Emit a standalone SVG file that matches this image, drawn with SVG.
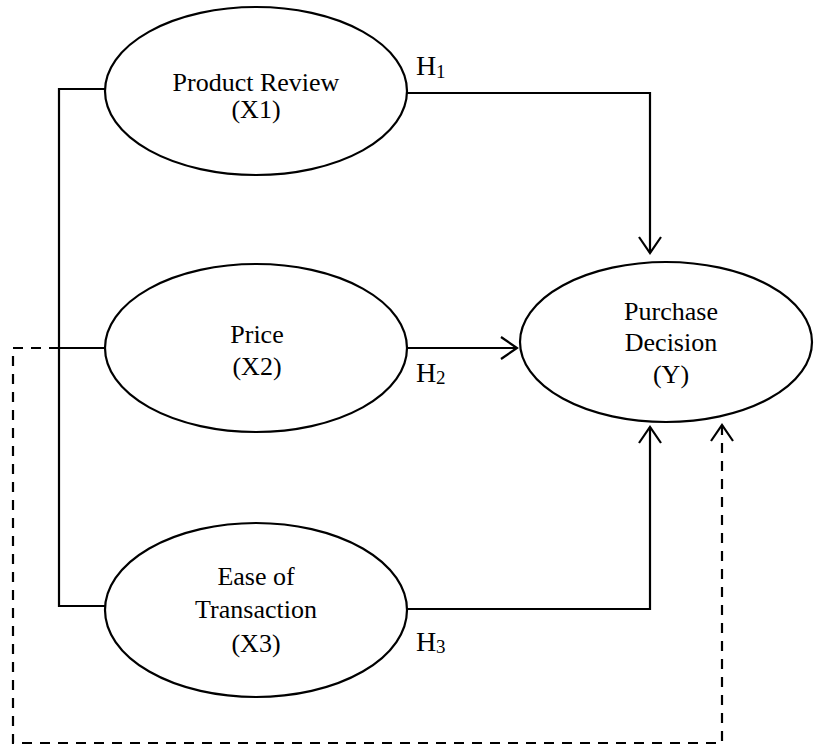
<svg xmlns="http://www.w3.org/2000/svg" width="814" height="746" viewBox="0 0 814 746">
  <style>
    .node ellipse { fill: #ffffff; stroke: #000000; stroke-width: 2.2; }
    .lbl { font-family: "Liberation Serif", "Times New Roman", serif; font-size: 26px; fill: #000000; text-anchor: middle; }
    .h { font-family: "Liberation Serif", "Times New Roman", serif; font-size: 28px; fill: #000000; }
    .sub { font-size: 19px; }
    .conn { fill: none; stroke: #000000; stroke-width: 2.2; }
    .dash { stroke-dasharray: 10 8; }
  </style>
  <defs>
    <marker id="arrow" viewBox="0 0 20 24" refX="18" refY="12" markerWidth="20" markerHeight="24" markerUnits="userSpaceOnUse" orient="auto">
      <path d="M2,1 L18,12 L2,23" fill="none" stroke="#000000" stroke-width="2.2" stroke-dasharray="none"/>
    </marker>
  </defs>
  <rect width="814" height="746" fill="#ffffff"/>

  <g id="connectors">
    <path class="conn" d="M105,89 H59 V606 H107"/>
    <path class="conn" d="M59,348 H105"/>
    <path class="conn" d="M407,93 H650 V253" marker-end="url(#arrow)"/>
    <path class="conn" d="M407,348 H517" marker-end="url(#arrow)"/>
    <path class="conn" d="M407,609 H650 V427" marker-end="url(#arrow)"/>
    <path class="conn dash" d="M59,348 H13 V743 H722 V425" marker-end="url(#arrow)"/>
  </g>

  <g id="x1" class="node">
    <ellipse cx="256" cy="91" rx="151" ry="84"/>
    <text class="lbl" x="256" y="91">Product Review</text>
    <text class="lbl" x="256" y="118">(X1)</text>
  </g>

  <g id="x2" class="node">
    <ellipse cx="256" cy="348" rx="151" ry="84"/>
    <text class="lbl" x="257" y="343">Price</text>
    <text class="lbl" x="257" y="375">(X2)</text>
  </g>

  <g id="x3" class="node">
    <ellipse cx="256" cy="610" rx="151" ry="87"/>
    <text class="lbl" x="256" y="585">Ease of</text>
    <text class="lbl" x="256" y="618">Transaction</text>
    <text class="lbl" x="256" y="652">(X3)</text>
  </g>

  <g id="y" class="node">
    <ellipse cx="666" cy="342" rx="146" ry="80"/>
    <text class="lbl" x="671" y="320">Purchase</text>
    <text class="lbl" x="671" y="351">Decision</text>
    <text class="lbl" x="671" y="383">(Y)</text>
  </g>

  <g id="labels">
    <text class="h" x="416" y="75">H<tspan class="sub" x="436" y="78">1</tspan></text>
    <text class="h" x="416" y="382">H<tspan class="sub" x="436" y="384">2</tspan></text>
    <text class="h" x="416" y="651">H<tspan class="sub" x="436" y="653">3</tspan></text>
  </g>
</svg>
